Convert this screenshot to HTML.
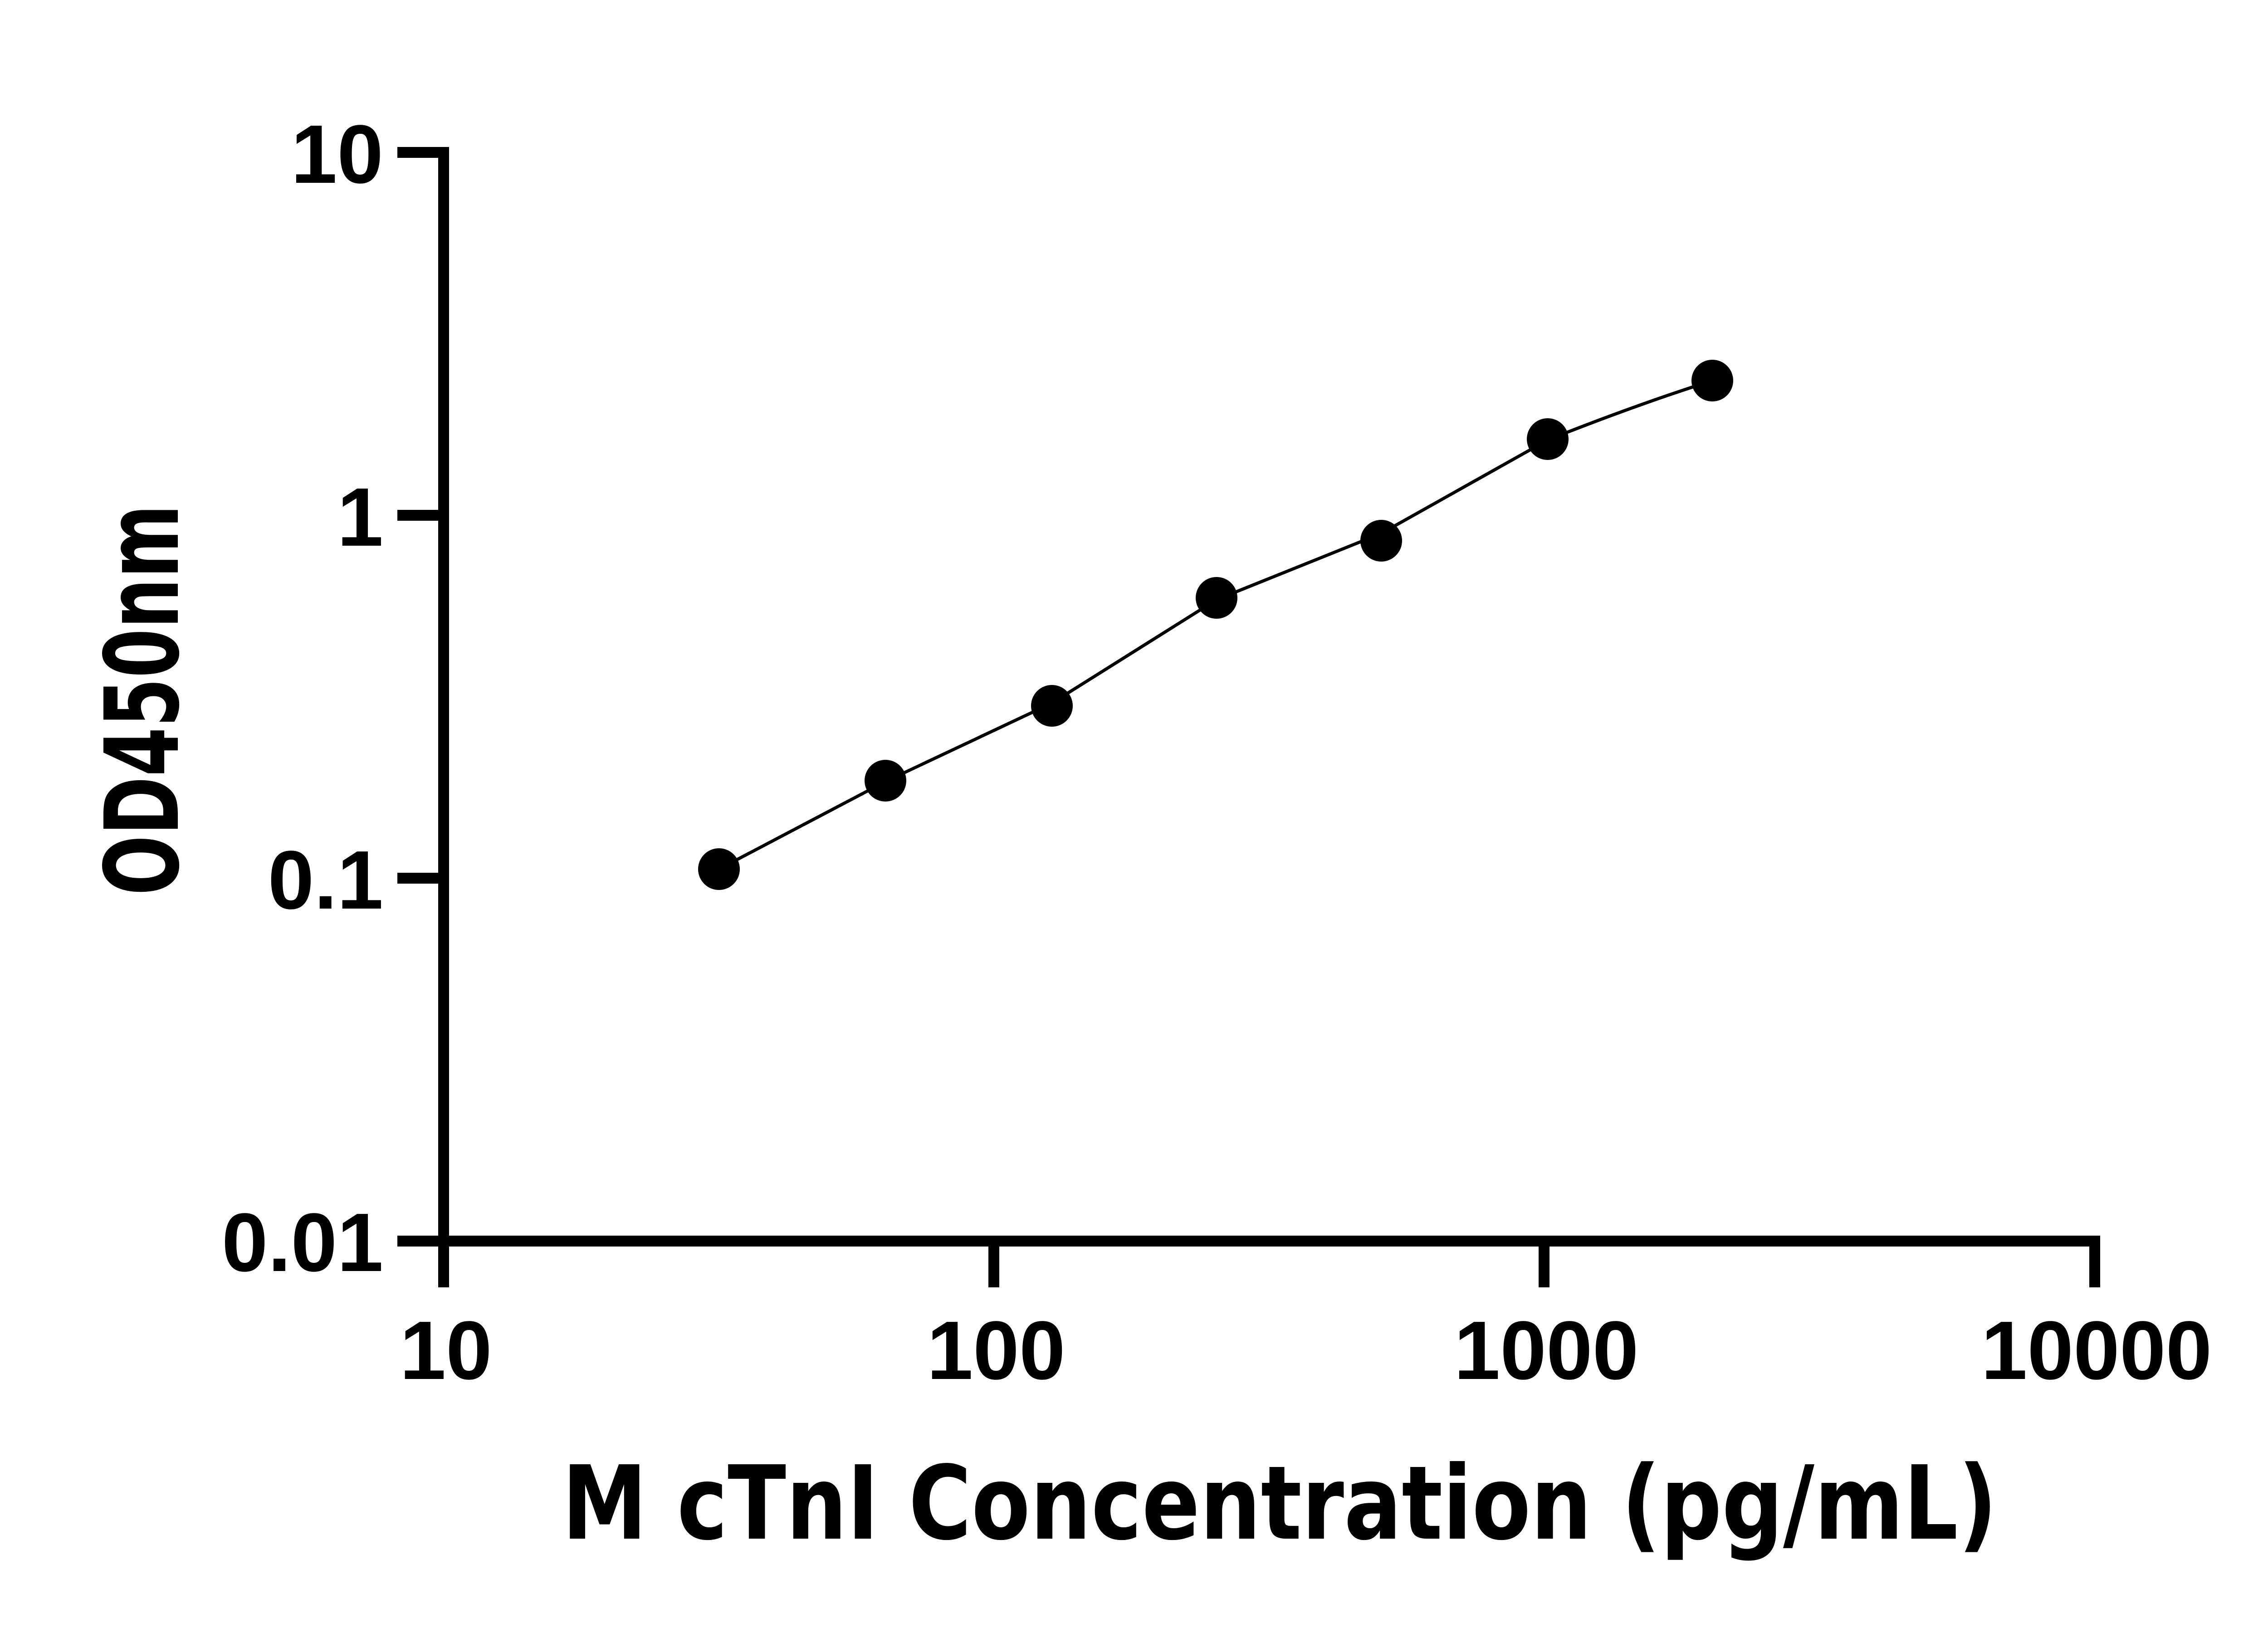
<!DOCTYPE html>
<html><head><meta charset="utf-8"><style>html,body{margin:0;padding:0;background:#fff}svg{display:block}</style></head>
<body>
<svg width="5130" height="3600" viewBox="0 0 5130 3600" xmlns="http://www.w3.org/2000/svg">
<rect width="5130" height="3600" fill="#fff"/>
<g stroke="#000" stroke-width="24" fill="none" stroke-linecap="butt">
<path d="M876,336 H990 M978,324 V2838"/>
<path d="M876,1136 H978 M876,1936 H978 M876,2736 H4630"/>
<path d="M2191,2736 V2838 M3404,2736 V2838 M4618,2736 V2838"/>
</g>
<g font-family="'Liberation Sans', Arial, sans-serif" font-weight="bold" font-size="183" fill="#000">
<text x="845" y="403" text-anchor="end">10</text>
<text x="845" y="1203" text-anchor="end">1</text>
<text x="845" y="2003" text-anchor="end">0.1</text>
<text x="845" y="2802" text-anchor="end">0.01</text>
<text x="983" y="3040" text-anchor="middle">10</text>
<text x="2196" y="3040" text-anchor="middle">100</text>
<text x="3409" y="3040" text-anchor="middle">1000</text>
<text x="4622" y="3040" text-anchor="middle">10000</text>
</g>
<path d="M1585,1916 L1952,1723 L2319,1550 L2682,1322 L3045,1176 L3412,970 Q3600,895 3775,839" stroke="#000" stroke-width="7" fill="none" stroke-linejoin="round"/>
<g fill="#000">
<circle cx="1585" cy="1916" r="46"/>
<circle cx="1952" cy="1721" r="46"/>
<circle cx="2319" cy="1556" r="46"/>
<circle cx="2682" cy="1318" r="46"/>
<circle cx="3045" cy="1192" r="46"/>
<circle cx="3412" cy="968" r="46"/>
<circle cx="3775" cy="839" r="46"/>
</g>
<text x="2821" y="3392" text-anchor="middle" font-family="'DejaVu Sans', 'Liberation Sans', sans-serif" font-weight="bold" font-size="225" textLength="3164" lengthAdjust="spacingAndGlyphs">M cTnI Concentration (pg/mL)</text>
<text transform="translate(392,1543) rotate(-90)" text-anchor="middle" font-family="'DejaVu Sans', 'Liberation Sans', sans-serif" font-weight="bold" font-size="225" textLength="862" lengthAdjust="spacingAndGlyphs">OD450nm</text>
</svg>
</body></html>
